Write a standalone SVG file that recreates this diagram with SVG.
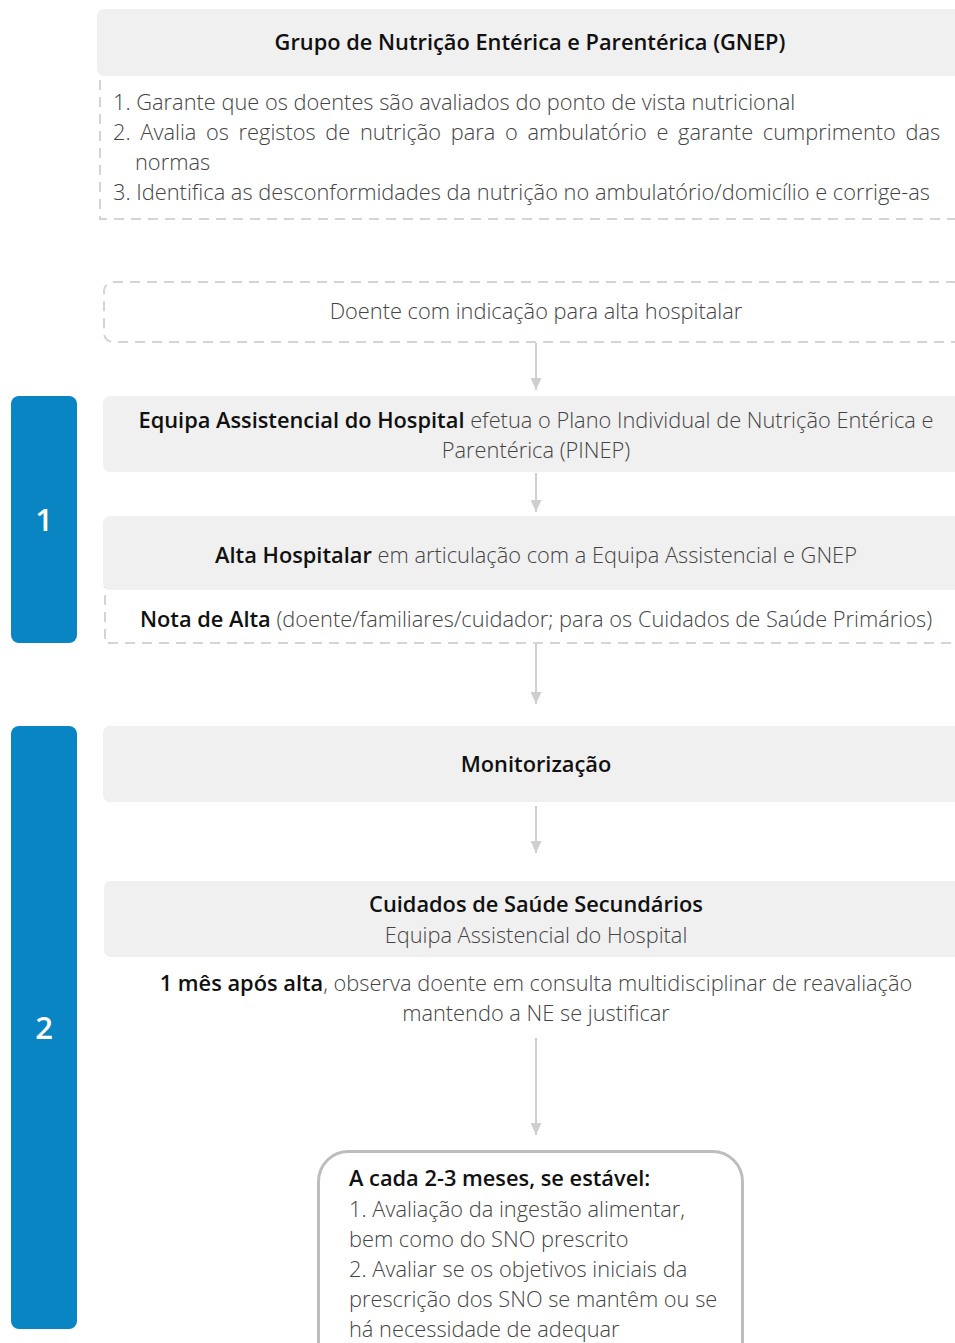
<svg xmlns="http://www.w3.org/2000/svg" width="955" height="1343" viewBox="0 0 955 1343">
<defs>
<style>
.grey{fill:#f0f0f0;}
.dash{fill:none;stroke:#d4d4d4;stroke-width:2;stroke-dasharray:10 7;}
.bar{fill:#0a85c4;}
.num{font-family:"Open Sans","Liberation Sans",sans-serif;font-size:31px;font-weight:600;fill:#fff;text-anchor:middle;}
.t{font-family:"Open Sans","Liberation Sans",sans-serif;font-size:21.8px;font-weight:300;fill:#444;}
.b{font-weight:600;fill:#111;}
.c{text-anchor:middle;}
.conn{stroke:#cfcfcf;stroke-width:2;fill:none;marker-end:url(#ah);}
</style>
<marker id="ah" markerWidth="12" markerHeight="11" refX="12" refY="5.5" orient="auto" markerUnits="userSpaceOnUse" viewBox="0 0 12 11">
<path d="M0,0 L12,5.5 L0,11 Z" fill="#cfcfcf"/>
</marker>
</defs>
<rect width="955" height="1343" fill="#fff"/>

<g id="phase1">
<rect class="bar" x="11" y="396" width="66" height="247" rx="8"/>
<text class="num" x="44" y="531">1</text>
</g>
<g id="phase2">
<rect class="bar" x="11" y="726" width="66" height="603" rx="8"/>
<text class="num" x="44" y="1039">2</text>
</g>

<g id="gnep">
<rect class="dash" x="100" y="40" width="900" height="179"/>
<rect class="grey" x="97" y="9" width="900" height="67" rx="7"/>
<text class="t b c" x="530" y="50">Grupo de Nutrição Entérica e Parentérica (GNEP)</text>
<text class="t" x="113" y="110">1. Garante que os doentes são avaliados do ponto de vista nutricional</text>
<text class="t" x="113" y="140" word-spacing="4">2. Avalia os registos de nutrição para o ambulatório e garante cumprimento das</text>
<text class="t" x="135" y="170">normas</text>
<text class="t" x="113" y="200">3. Identifica as desconformidades da nutrição no ambulatório/domicílio e corrige-as</text>
</g>

<g id="doente">
<rect class="dash" x="104" y="282" width="900" height="60" rx="9"/>
<text class="t c" x="536" y="319">Doente com indicação para alta hospitalar</text>
</g>

<g id="pinep">
<rect class="grey" x="103" y="396" width="900" height="76" rx="7"/>
<text class="t" x="536" y="428" text-anchor="middle"><tspan class="b">Equipa Assistencial do Hospital</tspan> efetua o Plano Individual de Nutrição Entérica e</text>
<text class="t c" x="536" y="458">Parentérica (PINEP)</text>
</g>

<g id="alta">
<rect class="dash" x="105" y="560" width="900" height="83"/>
<rect class="grey" x="103" y="516" width="900" height="74" rx="7"/>
<text class="t" x="536" y="563" text-anchor="middle"><tspan class="b">Alta Hospitalar</tspan> em articulação com a Equipa Assistencial e GNEP</text>
<text class="t" x="536" y="627" text-anchor="middle"><tspan class="b">Nota de Alta</tspan> (doente/familiares/cuidador;  para os Cuidados de Saúde Primários)</text>
</g>

<g id="monit">
<rect class="grey" x="103" y="726" width="900" height="76" rx="7"/>
<text class="t b c" x="536" y="772">Monitorização</text>
</g>

<g id="secundarios">
<rect class="grey" x="104" y="881" width="900" height="76" rx="7"/>
<text class="t b c" x="536" y="912">Cuidados de Saúde Secundários</text>
<text class="t c" x="536" y="943">Equipa Assistencial do Hospital</text>
<text class="t" x="536" y="991" text-anchor="middle"><tspan class="b">1 mês após alta</tspan>, observa doente em consulta multidisciplinar de reavaliação</text>
<text class="t c" x="536" y="1021">mantendo a NE se justificar</text>
</g>

<g id="estavel">
<rect x="318.5" y="1151.5" width="424" height="230" rx="30" fill="#fff" stroke="#bdbdbd" stroke-width="3"/>
<text class="t b" x="349" y="1186">A cada 2-3 meses, se estável:</text>
<text class="t" x="349" y="1217">1. Avaliação da ingestão alimentar,</text>
<text class="t" x="349" y="1247">bem como do SNO prescrito</text>
<text class="t" x="349" y="1277">2. Avaliar se os objetivos iniciais da</text>
<text class="t" x="349" y="1307">prescrição dos SNO se mantêm ou se</text>
<text class="t" x="349" y="1337">há necessidade de adequar</text>
</g>

<g id="connectors">
<line class="conn" x1="536" y1="343" x2="536" y2="390"/>
<line class="conn" x1="536" y1="473" x2="536" y2="512"/>
<line class="conn" x1="536" y1="644" x2="536" y2="704"/>
<line class="conn" x1="536" y1="806" x2="536" y2="853"/>
<line class="conn" x1="536" y1="1038" x2="536" y2="1135"/>
</g>
</svg>
